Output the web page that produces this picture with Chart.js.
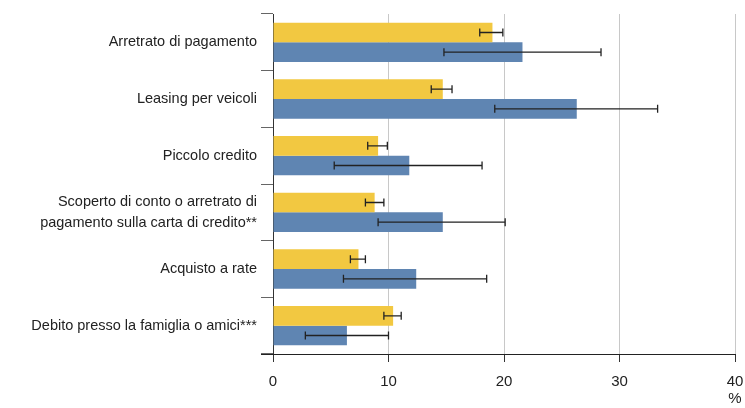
<!DOCTYPE html>
<html>
<head>
<meta charset="utf-8">
<script src="https://cdn.jsdelivr.net/npm/chart.js@4"></script>
<style>
    html, body { margin: 0; padding: 0; background: #fff; }
    #chartContainer { width: 745px; height: 408px; }
</style>
</head>
<body>
<div id="chartContainer"><canvas id="myChart"></canvas></div>
<script>
const categories = [
    'Arretrato di pagamento',
    'Leasing per veicoli',
    'Piccolo credito',
    ['Scoperto di conto o arretrato di', 'pagamento sulla carta di credito**'],
    'Acquisto a rate',
    'Debito presso la famiglia o amici***'
];

// yellow series: value and error interval
const yellowValues = [19.0, 14.7, 9.1, 8.8, 7.4, 10.4];
const yellowLow = [17.9, 13.7, 8.2, 8.0, 6.7, 9.6];
const yellowHigh = [19.9, 15.5, 9.9, 9.6, 8.0, 11.1];

// blue series: value and error interval
const blueValues = [21.6, 26.3, 11.8, 14.7, 12.4, 6.4];
const blueLow = [14.8, 19.2, 5.3, 9.1, 6.1, 2.8];
const blueHigh = [28.4, 33.3, 18.1, 20.1, 18.5, 10.0];

const xTicks = [0, 10, 20, 30, 40];
const xUnit = '%';

const fontFamily = '"Liberation Sans", Arial, sans-serif';

const errorBars = {
    id: 'errorBars',
    afterDatasetsDraw(chart) {
        const ctx = chart.ctx;
        const x = chart.scales.x;
        const ranges = [[yellowLow, yellowHigh], [blueLow, blueHigh]];
        ctx.save();
        ctx.strokeStyle = '#222';
        ctx.lineWidth = 1.3;
        chart.data.datasets.forEach((ds, i) => {
            const meta = chart.getDatasetMeta(i);
            const [low, high] = ranges[i];
            meta.data.forEach((bar, j) => {
                const y = bar.y;
                const x1 = x.getPixelForValue(low[j]);
                const x2 = x.getPixelForValue(high[j]);
                ctx.beginPath();
                ctx.moveTo(x1, y);
                ctx.lineTo(x2, y);
                ctx.moveTo(x1, y - 4);
                ctx.lineTo(x1, y + 4);
                ctx.moveTo(x2, y - 4);
                ctx.lineTo(x2, y + 4);
                ctx.stroke();
            });
        });
        // bottom axis line
        const area = chart.chartArea;
        ctx.strokeStyle = '#222';
        ctx.lineWidth = 1;
        ctx.beginPath();
        ctx.moveTo(area.left - 12, Math.round(area.bottom) + 0.5);
        ctx.lineTo(area.right, Math.round(area.bottom) + 0.5);
        ctx.stroke();
        ctx.restore();
    }
};

const ctx = document.getElementById('myChart').getContext('2d');

const myChart = new Chart(ctx, {
    type: 'bar',
    data: {
        labels: categories,
        datasets: [
            {
                label: 'Serie 1',
                data: yellowValues,
                backgroundColor: '#F2C841',
                categoryPercentage: 0.695,
                barPercentage: 1.0
            },
            {
                label: 'Serie 2',
                data: blueValues,
                backgroundColor: '#5F85B2',
                categoryPercentage: 0.695,
                barPercentage: 1.0
            }
        ]
    },
    options: {
        indexAxis: 'y',
        animation: false,
        maintainAspectRatio: false,
        responsive: true,
        layout: {
            padding: { top: 14, right: 10, left: 0, bottom: 0 }
        },
        plugins: {
            legend: { display: false },
            tooltip: { enabled: false }
        },
        scales: {
            x: {
                min: 0,
                max: 40,
                afterBuildTicks: (scale) => {
                    scale.ticks = xTicks.map(v => ({ value: v }));
                },
                afterFit: (scale) => {
                    scale.height = 54;
                    scale.paddingLeft = 0;
                    scale.paddingRight = 0;
                },
                border: { display: true, color: '#222', width: 1 },
                grid: {
                    color: (c) => c.index === 0 ? 'rgba(0,0,0,0)' : '#c8c8c8',
                    tickColor: '#333',
                    tickLength: 8,
                    lineWidth: 1
                },
                ticks: {
                    color: '#222',
                    padding: 11,
                    // unit sits under the last tick
                    callback: (v) => v === xTicks[xTicks.length - 1] ? [String(v), xUnit] : String(v),
                    font: { family: fontFamily, size: 15, lineHeight: 1.15 }
                }
            },
            y: {
                afterFit: (scale) => {
                    scale.width = 273;
                    scale.paddingTop = 0;
                    scale.paddingBottom = 0;
                },
                border: { display: true, color: '#333', width: 1 },
                grid: {
                    offset: true,
                    drawOnChartArea: false,
                    color: '#666',
                    tickLength: 12,
                    lineWidth: 1
                },
                ticks: {
                    color: '#222',
                    padding: 4,
                    font: { family: fontFamily, size: 14.5, lineHeight: 1.45 }
                }
            }
        }
    },
    plugins: [errorBars]
});
</script>
</body>
</html>
